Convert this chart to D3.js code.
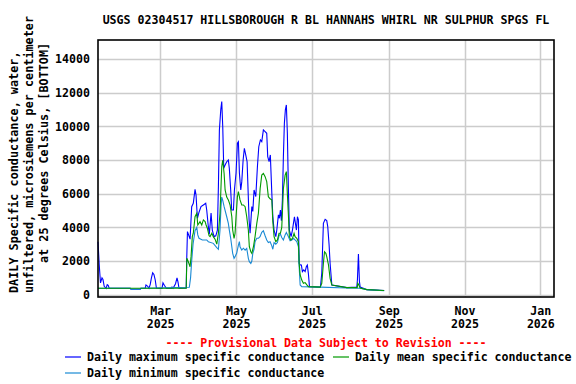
<!DOCTYPE html>
<html>
<head>
<meta charset="utf-8">
<script src="https://cdn.jsdelivr.net/npm/d3@7"></script>
<style>
  body{margin:0;background:#fff;}
  svg text{font-family:"DejaVu Sans Mono",monospace;font-weight:bold;}
</style>
</head>
<body>
<svg id="chart" width="576" height="384"></svg>
<script>
// 站点标题与图例文字
var title="USGS 02304517 HILLSBOROUGH R BL HANNAHS WHIRL NR SULPHUR SPGS FL";
var yLabelLines=["DAILY Specific conductance, water,","unfiltered, microsiemens per centimeter","at 25 degrees Celsius, [BOTTOM]"];
var seriesNames=["Daily maximum specific conductance","Daily mean specific conductance","Daily minimum specific conductance"];
var seriesColors=["#0000ff","#009900","#1a8ad4"];

// 刻度
var yTicks=[0,2000,4000,6000,8000,10000,12000,14000];
var xTickDates=["2025-03-01","2025-05-01","2025-07-01","2025-09-01","2025-11-01","2026-01-01"];

// 数据: [day of year 2025 (Jan 1 = 0), value]
var maxSeries=[[9,3150],[10,1760],[11,700],[12.2,1000],[13,900],[14,500],[15.5,380],[16.4,600],[17.2,550],[18,380],[35,380],[35.5,320],[43,320],[43.5,380],[47,380],[47.6,580],[49,500],[50,380],[51,600],[52,1000],[53,1300],[54,1200],[55,900],[56,400],[60.5,380],[61.3,700],[62.5,550],[64,380],[68.2,380],[68.6,450],[69.4,380],[71.4,650],[72.6,1000],[73.4,750],[74.2,380],[80,400],[80.4,2100],[81,3750],[81.7,3600],[83.1,3300],[84.4,5230],[85.7,5430],[87.1,6260],[87.9,5920],[89,4540],[90.3,4900],[91.9,5230],[93.8,5330],[95.7,5430],[96.5,5030],[97.8,4040],[98.6,3600],[100,4850],[101,3840],[102.4,3450],[103.8,3500],[105.1,3840],[105.9,6420],[106.7,9790],[107.8,10980],[108.6,11470],[109.4,9980],[110.2,7510],[111.3,7700],[112.6,7900],[113.9,8000],[114.7,7500],[115.8,6220],[116.6,5030],[118,5030],[118.8,6220],[120.1,7230],[121.2,9000],[122,9090],[122.8,7230],[123.9,6220],[124.7,6700],[125.8,8000],[126.8,8700],[127.9,8300],[129,7900],[129.5,6820],[130.6,4440],[131.4,3650],[132.8,5230],[133.6,4950],[134.6,6220],[136,5830],[137.3,7600],[138.4,8790],[139.7,9190],[140.8,9090],[142.1,9790],[143.5,9690],[144.8,9590],[145.6,8200],[146.7,7900],[147.7,8300],[148.9,6020],[149.7,4640],[150.7,3840],[152.1,3450],[152.9,3840],[154.2,4740],[155,4540],[155.8,5030],[156.6,4400],[157.4,5630],[158.2,8200],[159,10180],[159.8,10980],[160.6,11270],[161.4,9590],[162.2,6420],[163,3840],[164.4,3450],[165.5,3840],[166.3,4240],[167.1,4630],[167.9,4240],[168.7,3840],[169.5,4630],[170.3,4440],[170.9,1860],[171.9,1760],[172.7,1760],[173.5,1370],[174.6,1470],[175.7,1370],[176.7,1670],[177.5,1760],[178.3,1270],[179.2,480],[188,450],[189.1,1270],[190.4,4240],[191.8,4480],[193.1,4400],[193.9,4040],[195,2950],[195.8,1870],[197.2,580],[209.3,420],[217.3,450],[217.8,900],[218.6,2420],[219.4,800],[220,450],[222.6,380],[225.4,300],[239.3,250]];

var meanSeries=[[9,380],[80,380],[80.5,2160],[81.7,1960],[83.1,1660],[83.9,2260],[84.9,3450],[85.7,3650],[87.1,4630],[88.5,4840],[89.3,4140],[90.3,4240],[91.1,4340],[92.5,4140],[93.8,4440],[95.2,4340],[96,4140],[97,3950],[98.4,3500],[99.2,3450],[100.6,3650],[101.8,3450],[103.2,3300],[104.6,3000],[105.9,3650],[107.2,4840],[108.6,7610],[109.4,8000],[110.5,7200],[111.3,6220],[112.6,5800],[113.9,5630],[115.3,5330],[116.7,4630],[117.4,3840],[118.5,3350],[119.3,3650],[120.1,4630],[121.2,5820],[122,6120],[123.3,5630],[124.7,5330],[126,5330],[127.4,5230],[128.7,4630],[130,3840],[130.8,2850],[132,2550],[132.8,2460],[134.1,2850],[135.4,3450],[136.8,4240],[138.1,4840],[139.5,6300],[140.8,7110],[142.1,7210],[143.5,7010],[144.8,6720],[146.1,5820],[147.5,5700],[148.9,5630],[149.7,4340],[150.7,3450],[152.1,3150],[153.4,3250],[154.7,3650],[155.8,3650],[156.9,4000],[158.2,6300],[159.6,7100],[160.6,7310],[161.4,6000],[162.2,4800],[163,3450],[164.2,3250],[165.5,3350],[166.8,3650],[167.6,3450],[169,3350],[170.3,3150],[170.9,1860],[171.7,1170],[173,870],[174.3,680],[175.7,720],[177.1,580],[178.3,480],[187.8,450],[189.1,680],[190.4,1860],[191.3,2550],[192.4,2460],[193.1,2260],[194.5,1770],[195.8,970],[197.2,580],[209.3,420],[217.6,420],[218.1,680],[218.9,580],[220,400],[225.4,300],[239.3,250]];

var minSeries=[[9,380],[35,380],[35.5,320],[43,320],[43.5,380],[82.5,440],[83.5,1000],[84.4,2000],[85.5,3000],[87.1,3800],[88.5,4000],[89.3,3550],[90.3,3350],[93,3250],[96.5,3250],[97.8,3150],[101.8,3050],[104.6,2800],[105.9,2700],[107.2,3840],[108,5230],[108.6,5800],[109.4,5600],[110.5,5230],[112.6,4630],[113.9,4240],[114.7,3840],[115.8,3350],[116.7,2850],[117.4,2460],[118.5,2160],[119.3,2260],[120.6,2460],[122,2950],[122.8,3150],[123.3,2850],[124.7,2650],[126,2760],[127.4,2650],[128.7,2750],[130,2160],[130.8,1960],[132,1860],[132.8,2000],[133.6,2460],[134.6,2700],[135.4,3150],[136.8,3350],[138.1,3350],[139.4,3450],[140.8,3700],[142.1,3800],[143.5,3500],[144.8,3250],[146.1,3100],[147.5,3150],[148.9,2900],[149.7,2700],[150.7,3100],[152.1,3000],[153.4,3100],[154.7,3500],[155.8,3600],[156.9,3400],[158.2,3250],[159.6,3550],[160.6,3700],[162.2,3450],[163.6,3200],[165,3250],[166.3,3350],[167.6,3250],[169,3150],[170.3,2850],[170.9,1660],[171.7,580],[173,480],[187.8,450],[209.3,400],[220,380],[225.4,300],[239.3,230]];

var LEFT=98,TOP=40,RIGHT=554,BOTTOM=297;
var svg=d3.select("#chart");
var day0=new Date(2025,0,1).getTime();
function doyDate(d){return new Date(day0+d*864e5);}

var x=d3.scaleTime().domain([new Date(2025,0,10),new Date(2026,0,12)]).range([LEFT,RIGHT]);
var y=d3.scaleLinear().domain([-137,15130]).range([BOTTOM,TOP]);
var parse=d3.timeParse("%Y-%m-%d");
var xTicks=xTickDates.map(parse);

// 网格
var grid=svg.append("g");
grid.selectAll("line.h").data(yTicks).enter().append("line")
    .attr("x1",LEFT).attr("x2",RIGHT)
    .attr("y1",function(d){return Math.round(y(d))+0.5}).attr("y2",function(d){return Math.round(y(d))+0.5})
    .attr("stroke","#cccccc").attr("stroke-width",1.5);
grid.selectAll("line.v").data(xTicks).enter().append("line")
    .attr("y1",TOP).attr("y2",BOTTOM)
    .attr("x1",function(d){return Math.round(x(d))+0.5}).attr("x2",function(d){return Math.round(x(d))+0.5})
    .attr("stroke","#cccccc").attr("stroke-width",1.5);

// 数据线
var line=d3.line().x(function(d){return x(doyDate(d[0]))}).y(function(d){return y(d[1])});
var order=[[maxSeries,0],[minSeries,2],[meanSeries,1]];
for(let o of order){
    svg.append("path").datum(o[0]).attr("d",line)
        .attr("fill","none").attr("stroke",seriesColors[o[1]]).attr("stroke-width",1.1);
}

svg.append("rect").attr("x",LEFT).attr("y",TOP).attr("width",RIGHT-LEFT).attr("height",BOTTOM-TOP)
    .attr("fill","none").attr("stroke","#000").attr("stroke-width",1.6);

// 坐标轴
var yAxis=d3.axisLeft(y).tickValues(yTicks).tickSize(0).tickPadding(8).tickFormat(d3.format("d"));
var ya=svg.append("g").attr("transform","translate("+LEFT+",0)").call(yAxis);
ya.select(".domain").remove();
ya.selectAll("text").attr("font-size",11.6).attr("fill","#000")
    .style("font-family","DejaVu Sans Mono").style("font-weight","bold");

var xAxis=d3.axisBottom(x).tickValues(xTicks).tickSize(0).tickPadding(10).tickFormat(d3.timeFormat("%b"));
var xa=svg.append("g").attr("transform","translate(0,"+BOTTOM+")").call(xAxis);
xa.select(".domain").remove();
xa.selectAll("text").attr("font-size",11.6).attr("fill","#000")
    .style("font-family","DejaVu Sans Mono").style("font-weight","bold")
    .each(function(d){
        let t=d3.select(this);
        t.append("tspan").attr("x",0).attr("dy","1.12em").text(d.getFullYear());
    });

// 标题
svg.append("text").attr("x",(LEFT+RIGHT)/2).attr("y",24).attr("text-anchor","middle")
    .attr("font-size",11.6).text(title);

// y轴标签
var ylx=[18,33,48], yly=[293,293,263];
yLabelLines.forEach(function(s,i){
    svg.append("text").attr("transform","translate("+ylx[i]+","+yly[i]+") rotate(-90)")
        .attr("font-size",11.8).text(s);
});

// 图例
svg.append("text").attr("x",(LEFT+RIGHT)/2).attr("y",347).attr("text-anchor","middle")
    .attr("font-size",11.6).attr("fill","#ff0000").text("---- Provisional Data Subject to Revision ----");
var legendPos=[[65,357],[333,357],[65,373]];
var legendIdx=[0,1,2];
var lg=svg.append("g");
lg.selectAll("line").data(legendIdx).enter().append("line")
    .attr("x1",function(d){return legendPos[d][0]}).attr("x2",function(d){return legendPos[d][0]+16})
    .attr("y1",function(d){return legendPos[d][1]}).attr("y2",function(d){return legendPos[d][1]})
    .attr("stroke",function(d){return seriesColors[d]}).attr("stroke-width",1.2);
lg.selectAll("text").data(legendIdx).enter().append("text")
    .attr("x",function(d){return legendPos[d][0]+22}).attr("y",function(d){return legendPos[d][1]+4})
    .attr("font-size",11.6).text(function(d){return seriesNames[d]});
</script>
</body>
</html>
